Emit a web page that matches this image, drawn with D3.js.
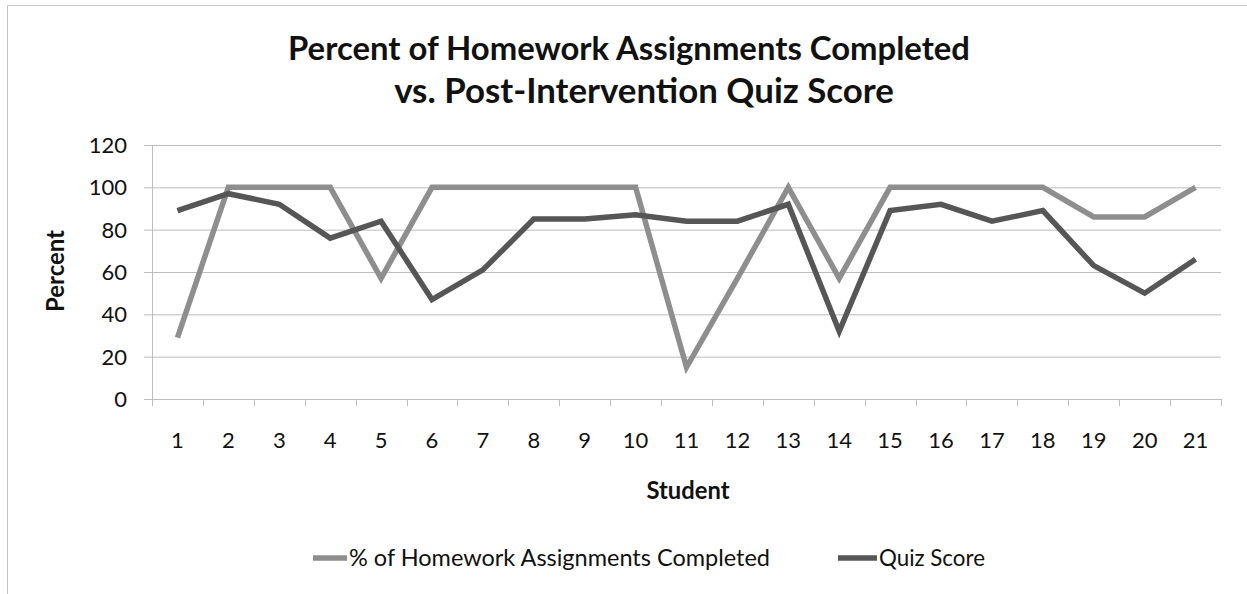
<!DOCTYPE html>
<meta charset="utf-8">
<style>
  body { margin: 0; background: #fff; }
  text { font-family: Lato, "Open Sans", sans-serif; fill: #111; }
</style>
<body>
<script src="https://d3js.org/d3.v7.min.js"></script>
<script>
  // values
  var students = d3.range(1, 22);
  var homework = [29, 100, 100, 100, 57, 100, 100, 100, 100, 100, 15, 57, 100, 57, 100, 100, 100, 100, 86, 86, 100];
  var quiz = [89, 97, 92, 76, 84, 47, 61, 85, 85, 87, 84, 84, 92, 32, 89, 92, 84, 89, 63, 50, 66];
  var yTicks = [0, 20, 40, 60, 80, 100, 120];
  var seriesNames = ["% of Homework Assignments Completed", "Quiz Score"];
  var seriesColors = ["#8e8e8e", "#565656"];

  var W = 1247, H = 594;
  var plot = { left: 152, right: 1221, top: 145, bottom: 399 };

  var svg = d3.select("body").append("svg")
    .attr("width", W)
    .attr("height", H);

  // squeeze a text to a given width by changing its font size
  function fit(sel, w) {
    var node = sel.node();
    var fs = parseFloat(sel.attr("font-size"));
    var len = node.getComputedTextLength();
    sel.attr("font-size", (fs * w / len).toFixed(2));
    return sel;
  }

  // outer frame (top and left edges visible in the scan)
  svg.append("path")
    .attr("d", "M7.5," + H + "V5.5H" + W)
    .attr("fill", "none")
    .attr("stroke", "#c4c4c4");

  var x = d3.scaleBand()
    .domain(students)
    .range([plot.left, plot.right])
    .padding(0);

  var y = d3.scaleLinear()
    .domain([0, 120])
    .range([plot.bottom, plot.top]);

  // gridlines
  svg.append("g")
    .selectAll("line")
    .data(yTicks)
    .enter()
    .append("line")
    .attr("x1", plot.left - 8)
    .attr("x2", plot.right)
    .attr("y1", function (d) { return y(d) + 0.5; })
    .attr("y2", function (d) { return y(d) + 0.5; })
    .attr("stroke", "#bdbdbd")
    .attr("stroke-width", 1);

  // y axis line
  svg.append("line")
    .attr("x1", plot.left + 0.5).attr("x2", plot.left + 0.5)
    .attr("y1", plot.top).attr("y2", plot.bottom + 7)
    .attr("stroke", "#bdbdbd");

  // x ticks on band boundaries
  var bounds = students.map(function (s) { return x(s); }).concat([plot.right]);
  svg.append("g")
    .selectAll("line")
    .data(bounds)
    .enter()
    .append("line")
    .attr("x1", function (d) { return Math.round(d) + 0.5; })
    .attr("x2", function (d) { return Math.round(d) + 0.5; })
    .attr("y1", plot.bottom)
    .attr("y2", plot.bottom + 7)
    .attr("stroke", "#bdbdbd");

  // y tick labels
  svg.append("g")
    .selectAll("text")
    .data(yTicks)
    .enter()
    .append("text")
    .attr("x", 127)
    .attr("y", function (d) { return y(d); })
    .attr("dy", "0.36em")
    .attr("text-anchor", "end")
    .attr("font-size", 22)
    .text(function (d) { return d; });

  // x tick labels
  svg.append("g")
    .selectAll("text")
    .data(students)
    .enter()
    .append("text")
    .attr("x", function (d) { return x(d) + x.bandwidth() / 2; })
    .attr("y", 440)
    .attr("dy", "0.36em")
    .attr("text-anchor", "middle")
    .attr("font-size", 22)
    .text(function (d) { return d; });

  // lines
  var line = d3.line()
    .x(function (d, i) { return x(students[i]) + x.bandwidth() / 2; })
    .y(function (d) { return y(d); });

  [homework, quiz].forEach(function (vals, k) {
    svg.append("path")
      .datum(vals)
      .attr("d", line)
      .attr("fill", "none")
      .attr("stroke", seriesColors[k])
      .attr("stroke-width", 5.5)
      .attr("stroke-linejoin", "miter");
  });

  // titles
  var t1 = svg.append("text")
    .attr("x", 629).attr("y", 60)
    .attr("text-anchor", "middle")
    .attr("font-weight", "bold")
    .attr("font-size", 30)
    .text("Percent of Homework Assignments Completed");
  fit(t1, 682);

  var t2 = svg.append("text")
    .attr("x", 644).attr("y", 103)
    .attr("text-anchor", "middle")
    .attr("font-weight", "bold")
    .attr("font-size", 30)
    .text("vs. Post-Intervention Quiz Score");
  fit(t2, 500);

  var xl = svg.append("text")
    .attr("x", 688).attr("y", 490)
    .attr("dy", "0.36em")
    .attr("text-anchor", "middle")
    .attr("font-weight", "bold")
    .attr("font-size", 20)
    .text("Student");
  fit(xl, 83);

  var yl = svg.append("text")
    .attr("transform", "translate(55,271) rotate(-90)")
    .attr("dy", "0.36em")
    .attr("text-anchor", "middle")
    .attr("font-weight", "bold")
    .attr("font-size", 20)
    .text("Percent");
  fit(yl, 82);

  // legend
  var legendPos = [
    { x1: 313, x2: 347, tx: 349, w: 421 },
    { x1: 838, x2: 877, tx: 879, w: 106 }
  ];
  seriesNames.forEach(function (name, k) {
    var p = legendPos[k];
    svg.append("line")
      .attr("x1", p.x1).attr("x2", p.x2)
      .attr("y1", 558).attr("y2", 558)
      .attr("stroke", seriesColors[k])
      .attr("stroke-width", 5.5);
    var t = svg.append("text")
      .attr("x", p.tx).attr("y", 558)
      .attr("dy", "0.36em")
      .attr("font-size", 22)
      .text(name);
    fit(t, p.w);
  });
</script>
</body>
